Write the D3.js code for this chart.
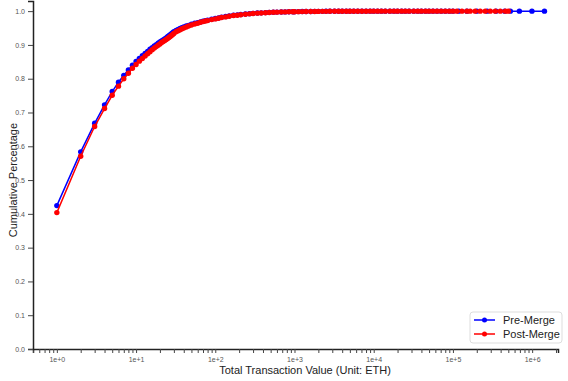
<!DOCTYPE html>
<html>
<head>
<meta charset="utf-8">
<script src="https://cdn.jsdelivr.net/npm/d3@7"></script>
<style>
  body { margin: 0; background: #fff; }
  svg { display: block; font-family: "Liberation Sans", Arial, sans-serif; }
</style>
</head>
<body>
<svg id="chart"></svg>
<script>
// Pre-Merge cumulative distribution (value in ETH -> cumulative share)
const preMergeValues = [1,2,3,4,5,6,7,8,9,10,11,12,13,14,15,16,17,18,19,20,21,22,23,24,25,26,27,28,29,30,
  32,34,36,38,40,43,46,50,55,60,65,70,75,80,90,100,110,120,135,150,170,190,210,240,270,300,340,380,430,480,
  540,600,680,760,850,950,1000,1120,1250,1400,1600,1800,2000,2250,2500,2800,3200,3600,4000,4500,5000,5600,
  6300,7100,8000,9000,10000,11200,12500,14000,16000,18000,20000,22500,25000,28000,32000,36000,40000,45000,
  50000,56000,63000,71000,80000,90000,100000,118000,150000,200000,270000,350000,450000,531000,690000,994000,1430000];
const preMergeCdf = [0.4245,0.5835,0.668,0.7227,0.762,0.7897,0.810,0.826,0.840,0.851,0.860,0.868,0.875,0.881,0.887,0.892,0.897,0.901,0.905,0.909,0.912,0.915,0.918,0.921,0.924,0.927,0.930,0.933,0.936,0.939,
  0.943,0.946,0.949,0.951,0.953,0.956,0.958,0.961,0.964,0.966,0.968,0.970,0.972,0.973,0.976,0.978,0.980,0.982,0.984,0.986,0.988,0.989,0.990,0.9915,0.9925,0.9935,0.9943,0.995,0.9957,0.9962,
  0.9967,0.9971,0.9975,0.9978,0.9981,0.9983,0.9984,0.9986,0.9988,0.9989,0.9991,0.9992,0.9993,0.9994,0.9995,0.9995,0.9996,0.9996,0.9997,0.9997,0.9998,0.9998,
  0.9998,0.9998,0.9999,0.9999,0.9999,0.9999,0.9999,0.9999,0.9999,0.9999,1,1,1,1,1,1,1,1,
  1,1,1,1,1,1,1,1,1,1,1,1,1,1,1,1,1];

// Post-Merge cumulative distribution
const postMergeValues = [1,2,3,4,5,6,7,8,9,10,11,12,13,14,15,16,17,18,19,20,21,22,23,24,25,26,27,28,29,30,
  32,34,36,38,40,43,46,50,55,60,65,70,75,80,90,100,110,120,135,150,170,190,210,240,270,300,340,380,430,480,
  540,600,680,760,850,950,1000,1120,1250,1400,1600,1800,2000,2250,2500,2800,3200,3600,4000,4500,5000,5600,
  6300,7100,8000,9000,10000,11200,12500,14000,16000,18000,20000,22500,25000,28000,32000,36000,40000,45000,
  50000,56000,63000,71000,80000,90000,100000,112000,130000,150000,165000,191000,221000,256000,296000,343000,396000,459000,501000];
const postMergeCdf = [0.4037,0.5705,0.6585,0.7117,0.751,0.778,0.800,0.816,0.831,0.842,0.852,0.860,0.867,0.874,0.880,0.886,0.891,0.895,0.899,0.903,0.907,0.910,0.913,0.916,0.919,0.922,0.925,0.928,0.931,0.934,
  0.939,0.942,0.945,0.948,0.950,0.953,0.956,0.959,0.962,0.964,0.967,0.969,0.971,0.972,0.975,0.977,0.979,0.981,0.983,0.985,0.987,0.988,0.9895,0.991,0.992,0.993,0.994,0.9947,0.9954,0.996,
  0.9965,0.997,0.9974,0.9977,0.998,0.9982,0.9983,0.9985,0.9987,0.9989,0.999,0.9991,0.9992,0.9993,0.9994,0.9995,0.9995,0.9996,0.9996,0.9997,0.9997,0.9998,
  0.9998,0.9998,0.9998,0.9999,0.9999,0.9999,0.9999,0.9999,0.9999,0.9999,1,1,1,1,1,1,1,1,
  1,1,1,1,1,1,1,1,1,1,1,1,1,1,1,1,1,1,1];

const yTicks = [0,0.1,0.2,0.3,0.4,0.5,0.6,0.7,0.8,0.9,1.0];
const seriesNames = ['Pre-Merge', 'Post-Merge'];
const seriesColors = ['#0000ff', '#ff0000'];

const W = 568, H = 381;
const margin = { left: 33, right: 10, top: 1, bottom: 32 };

const svg = d3.select('#chart').attr('width', W).attr('height', H);

const x = d3.scaleLog()
  .domain([0.5, 2.12e6])
  .range([margin.left, W - margin.right]);
const y = d3.scaleLinear()
  .domain([0, 1.03])
  .range([H - margin.bottom, margin.top]);

// axes
const xAxis = d3.axisBottom(x)
  .tickSizeOuter(0)
  .tickSize(4)
  .tickFormat(d => {
    const p = Math.log10(d);
    return Math.abs(p - Math.round(p)) < 1e-9 ? '1e+' + Math.round(p) : '';
  });
const gx = svg.append('g')
  .attr('transform', `translate(0,${H - margin.bottom})`)
  .call(xAxis);

const yAxis = d3.axisLeft(y)
  .tickValues(yTicks)
  .tickSizeOuter(0)
  .tickSize(5)
  .tickFormat(d3.format('.1f'));
const gy = svg.append('g')
  .attr('transform', `translate(${margin.left},0)`)
  .call(yAxis);

[gx, gy].forEach(g => {
  g.select('.domain').attr('stroke', '#222').attr('stroke-width', 1.5);
  g.selectAll('.tick line').attr('stroke', '#444');
  g.selectAll('.tick text').attr('fill', '#555').attr('font-size', 7)
    .attr('font-family', '"Liberation Sans", Arial, sans-serif');
});
gx.selectAll('.tick text').attr('dy', '0.9em');

// axis titles
svg.append('text')
  .attr('x', 305).attr('y', 374)
  .attr('text-anchor', 'middle')
  .attr('font-size', 11).attr('fill', '#222')
  .text('Total Transaction Value (Unit: ETH)');
svg.append('text')
  .attr('transform', `translate(17,${(y(0) + y(1)) / 2}) rotate(-90)`)
  .attr('text-anchor', 'middle')
  .attr('font-size', 11).attr('fill', '#222')
  .text('Cumulative Percentage');

// series
const series = [
  preMergeValues.map((v, i) => [v, preMergeCdf[i]]),
  postMergeValues.map((v, i) => [v, postMergeCdf[i]])
];
const line = d3.line().x(d => x(d[0])).y(d => y(d[1]));

series.forEach((data, k) => {
  const g = svg.append('g');
  g.append('path')
    .datum(data)
    .attr('fill', 'none')
    .attr('stroke', seriesColors[k])
    .attr('stroke-width', 1.5)
    .attr('d', line);
  g.selectAll('circle')
    .data(data)
    .join('circle')
    .attr('cx', d => x(d[0]))
    .attr('cy', d => y(d[1]))
    .attr('r', 2.7)
    .attr('fill', seriesColors[k]);
});

// legend
const lg = svg.append('g').attr('transform', 'translate(470,312)');
lg.append('rect')
  .attr('width', 92).attr('height', 31)
  .attr('rx', 3)
  .attr('fill', '#fff')
  .attr('stroke', '#ddd');
seriesNames.forEach((name, k) => {
  const ly = 8 + k * 14;
  lg.append('line')
    .attr('x1', 4).attr('x2', 25).attr('y1', ly).attr('y2', ly)
    .attr('stroke', seriesColors[k]).attr('stroke-width', 1.5);
  lg.append('circle')
    .attr('cx', 14.5).attr('cy', ly).attr('r', 2.5)
    .attr('fill', seriesColors[k]);
  lg.append('text')
    .attr('x', 33).attr('y', ly + 4)
    .attr('font-size', 11).attr('fill', '#222')
    .text(name);
});
</script>
</body>
</html>
